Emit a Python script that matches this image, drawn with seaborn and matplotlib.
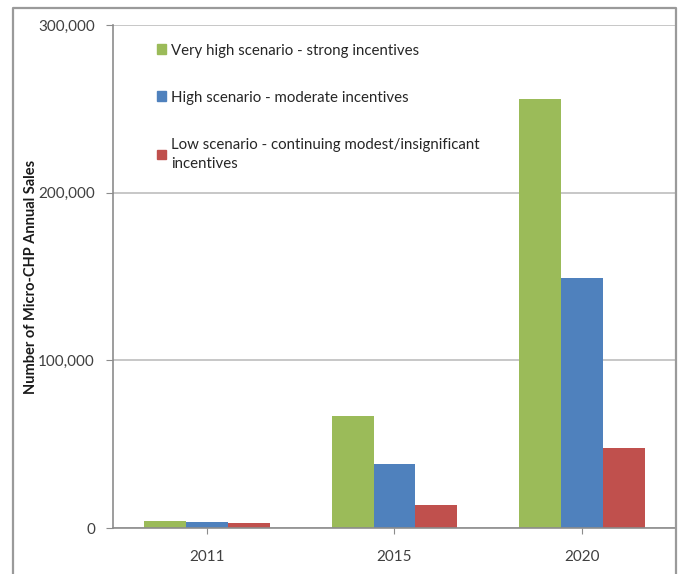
import pandas as pd
import matplotlib.pyplot as plt
import seaborn as sns
from matplotlib.lines import Line2D
from matplotlib.ticker import FuncFormatter

# Chart data
years = ["2011", "2015", "2020"]
scenarios = [
    "Very high scenario - strong incentives",
    "High scenario - moderate incentives",
    "Low scenario - continuing modest/insignificant\nincentives",
]
very_high = [4000, 67000, 256000]
high = [3500, 38000, 149000]
low = [3000, 14000, 48000]
colors = ["#9BBB59", "#4F81BD", "#C0504D"]

df = pd.DataFrame({
    "year": years * 3,
    "sales": very_high + high + low,
    "scenario": [s for s in scenarios for _ in years],
})

sns.set_style("white")
plt.rcParams["font.family"] = ["Lato", "DejaVu Sans"]

fig = plt.figure(figsize=(6.8, 5.74), dpi=100)
ax = fig.add_axes([113 / 680, 46 / 574, 563 / 680, 503 / 574])

sns.barplot(data=df, x="year", y="sales", hue="scenario", palette=colors,
            width=0.67, ax=ax, saturation=1, edgecolor="none", legend=False)

ax.set_ylim(0, 300000)
ax.set_xlim(-0.5, 2.5)
ax.set_yticks([0, 100000, 200000, 300000])
ax.yaxis.set_major_formatter(FuncFormatter(lambda v, p: f"{int(v):,}"))
ax.grid(axis="y", color="#BEBEBE", linewidth=1.2)
ax.set_axisbelow(True)

for side in ["top", "right"]:
    ax.spines[side].set_visible(False)
for side in ["left", "bottom"]:
    ax.spines[side].set_color("#8C8C8C")
    ax.spines[side].set_linewidth(1.2)

ax.tick_params(axis="y", left=True, length=5, color="#8C8C8C", labelsize=11,
               labelcolor="#404040", pad=8)
ax.tick_params(axis="x", bottom=True, length=4, color="#8C8C8C", labelsize=11,
               labelcolor="#404040", pad=12)
ax.set_xlabel("")
ax.set_ylabel("Number of Micro-CHP Annual Sales", fontsize=10.5, fontweight="bold",
              color="#1A1A1A")
ax.yaxis.set_label_coords(-0.133, 0.5)

handles = [plt.Rectangle((0, 0), 1, 1, color=c) for c in colors]
leg = ax.legend(handles, scenarios, loc="upper left", bbox_to_anchor=(0.055, 0.99),
                frameon=False, fontsize=10.8, handlelength=0.6, handleheight=0.6,
                handletextpad=0.3, labelspacing=2.2, labelcolor="#262626")
for t in leg.get_texts():
    t.set_linespacing(1.5)

# outer frame of the original picture
frame_color = "#9A9A9A"
fig.add_artist(Line2D([13 / 680, 13 / 680, 676 / 680, 676 / 680],
                      [0, 1 - 8 / 574, 1 - 8 / 574, 0],
                      transform=fig.transFigure, color=frame_color, linewidth=1.6))

fig.savefig("out.png", dpi=100)
